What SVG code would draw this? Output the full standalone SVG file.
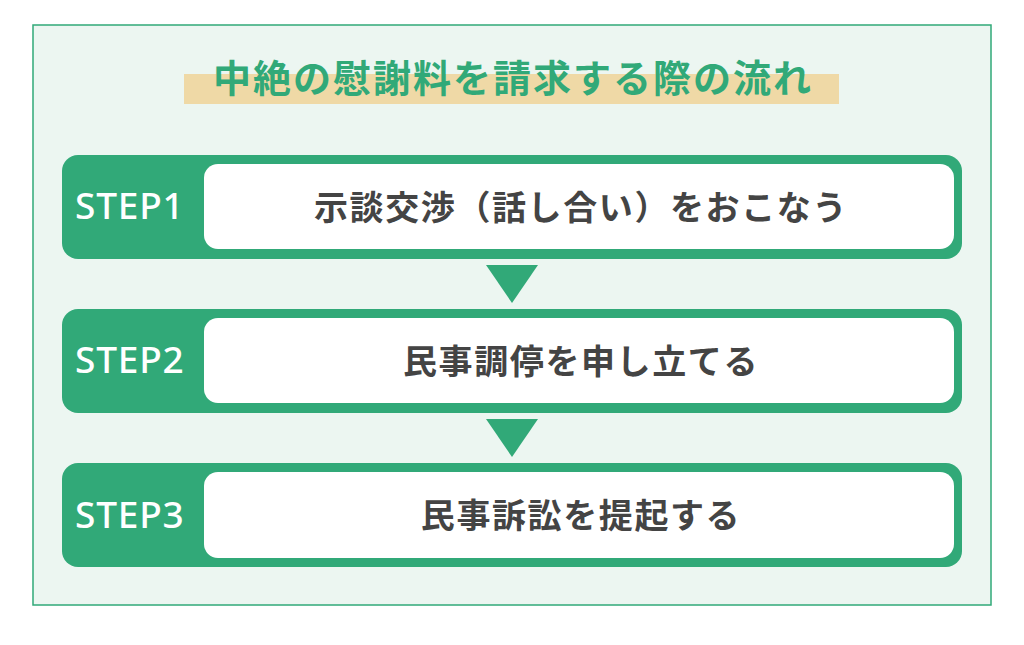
<svg xmlns="http://www.w3.org/2000/svg" width="1024" height="645" viewBox="0 0 1024 645">
<style>
.frame{fill:#ecf6f1;stroke:#31a978;stroke-width:1.5}
.outer{fill:#31a978}
.inner{fill:#ffffff}
.step{font-family:"Noto Sans","Liberation Sans",sans-serif;font-weight:500;font-size:37px;fill:#ffffff;letter-spacing:0.8px}
.body{font-family:"Noto Sans CJK JP","Noto Sans",sans-serif;font-weight:700;font-size:34px;fill:#444444;letter-spacing:1.6px}
.title{font-family:"Noto Sans CJK JP","Noto Sans",sans-serif;font-weight:700;font-size:38px;fill:#31a978;letter-spacing:2px}
.arrow{fill:#31a978}
</style>
<rect class="frame" x="33" y="25" width="958" height="580"/>
<g id="title">
<rect x="184" y="74" width="655" height="30" fill="#efd9a6"/>
<text class="title" x="513" y="92" text-anchor="middle">中絶の慰謝料を請求する際の流れ</text>
</g>
<g id="step1">
<rect class="outer" x="62" y="155" width="900" height="104" rx="16"/>
<rect class="inner" x="204" y="164" width="750" height="85" rx="14"/>
<text class="step" x="75" y="219">STEP1</text>
<text class="body" x="581" y="220" text-anchor="middle">示談交渉（話し合い）をおこなう</text>
</g>
<g id="step2">
<rect class="outer" x="62" y="309" width="900" height="104" rx="16"/>
<rect class="inner" x="204" y="318" width="750" height="85" rx="14"/>
<text class="step" x="75" y="373">STEP2</text>
<text class="body" x="581" y="374" text-anchor="middle">民事調停を申し立てる</text>
</g>
<g id="step3">
<rect class="outer" x="62" y="463" width="900" height="104" rx="16"/>
<rect class="inner" x="204" y="472" width="750" height="86" rx="14"/>
<text class="step" x="75" y="528">STEP3</text>
<text class="body" x="581" y="528" text-anchor="middle">民事訴訟を提起する</text>
</g>
<g id="connectors">
<polygon class="arrow" points="486,265 538,265 512,303"/>
<polygon class="arrow" points="486,419 538,419 512,457"/>
</g>
</svg>
